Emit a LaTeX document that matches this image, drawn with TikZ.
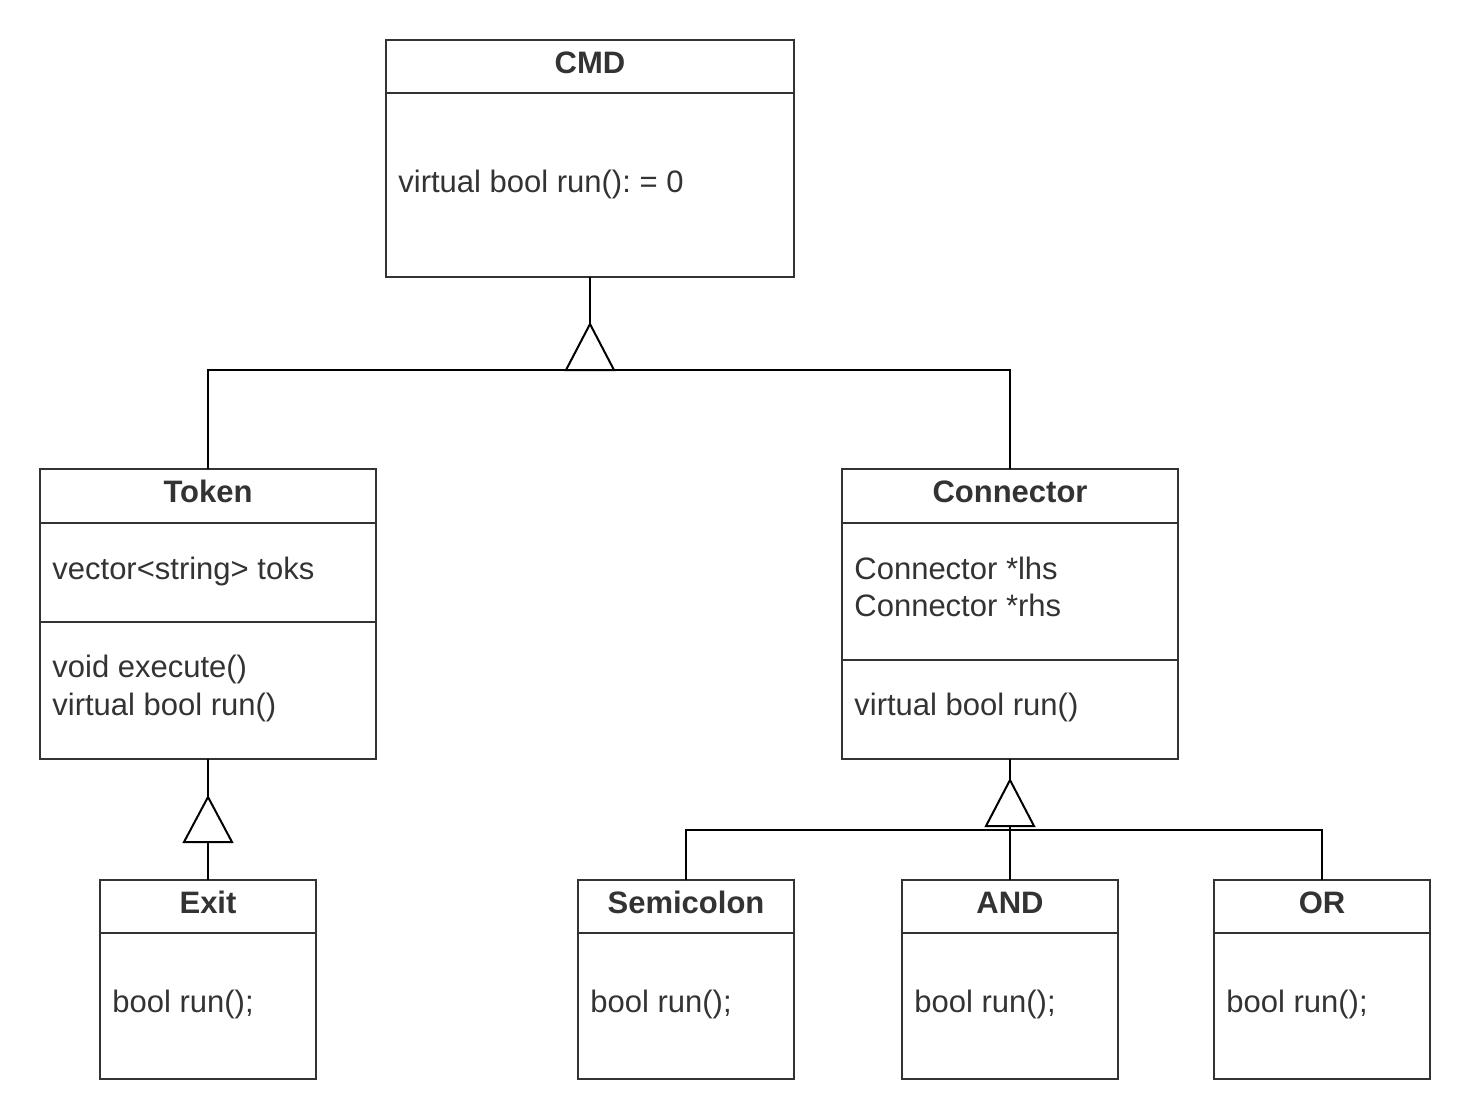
\documentclass[tikz,border=0pt]{standalone}
\usepackage{fontspec}
\setmainfont{Liberation Sans}
\usepackage{xcolor}
\usepackage{tikz}
\definecolor{umlgray}{HTML}{333333}
\frenchspacing
\tikzset{
	compart/.style={draw=umlgray, line width=1pt, fill=white, inner sep=0pt, outer sep=0pt, anchor=north west},
	classname/.style={font=\fontsize{15.5}{18.5}\selectfont\bfseries, text=umlgray, inner sep=0pt, anchor=base},
	member/.style={font=\fontsize{15.5}{18.5}\selectfont, text=umlgray, inner sep=0pt, anchor=base west},
	gen/.style={draw=black, line width=1pt},
	hollow/.style={gen, fill=white, line join=miter}
}

\begin{document}
\begin{tikzpicture}[x=0.5pt,y=-0.5pt]
	\useasboundingbox (0,0) rectangle (1470,1119);
	%
	%  CLASSES
	%
	\node[compart, minimum width=204pt, minimum height=26.5pt] (CMDh) at (386,40) {};
	\node[compart, minimum width=204pt, minimum height=92pt] (CMDb) at (386,93) {};
	\node[compart, minimum width=168pt, minimum height=27pt] (Tokh) at (40,469) {};
	\node[compart, minimum width=168pt, minimum height=49.5pt] (Toka) at (40,523) {};
	\node[compart, minimum width=168pt, minimum height=68.5pt] (Toko) at (40,622) {};
	\node[compart, minimum width=168pt, minimum height=27pt] (Conh) at (842,469) {};
	\node[compart, minimum width=168pt, minimum height=68.5pt] (Cona) at (842,523) {};
	\node[compart, minimum width=168pt, minimum height=49.5pt] (Cono) at (842,660) {};
	\node[compart, minimum width=108pt, minimum height=26.5pt] (Exith) at (100,880) {};
	\node[compart, minimum width=108pt, minimum height=73pt] (Exitb) at (100,933) {};
	\node[compart, minimum width=108pt, minimum height=26.5pt] (Semih) at (578,880) {};
	\node[compart, minimum width=108pt, minimum height=73pt] (Semib) at (578,933) {};
	\node[compart, minimum width=108pt, minimum height=26.5pt] (ANDh) at (902,880) {};
	\node[compart, minimum width=108pt, minimum height=73pt] (ANDb) at (902,933) {};
	\node[compart, minimum width=108pt, minimum height=26.5pt] (ORh) at (1214,880) {};
	\node[compart, minimum width=108pt, minimum height=73pt] (ORb) at (1214,933) {};
	%
	%  NAMES AND MEMBERS
	%
	\node[classname] (n1) at (590,73.3) {CMD};
	\node[classname] (n2) at (208,502.3) {Token};
	\node[classname] (n3) at (1010,502.3) {Connector};
	\node[classname] (n4) at (208,913.3) {Exit};
	\node[classname] (n5) at (686,913.3) {Semicolon};
	\node[classname] (n6) at (1010,913.3) {AND};
	\node[classname] (n7) at (1322,913.3) {OR};
	%
	\node[member] (m1) at (398,192) {virtual bool run(): = 0};
	\node[member] (m2) at (52,579) {vector<string> toks};
	\node[member] (m3) at (52,677) {void execute()};
	\node[member] (m4) at (52,715) {virtual bool run()};
	\node[member] (m5) at (854,579) {Connector *lhs};
	\node[member] (m6) at (854,616) {Connector *rhs};
	\node[member] (m7) at (854,715) {virtual bool run()};
	\node[member] (m8) at (112,1012) {bool run();};
	\node[member] (m9) at (590,1012) {bool run();};
	\node[member] (m10) at (914,1012) {bool run();};
	\node[member] (m11) at (1226,1012) {bool run();};
	%
	%  INHERITANCE
	%
	\coordinate (apexC) at (590,324);
	\coordinate (barC) at (590,370);
	\coordinate (apexT) at (208,797);
	\coordinate (baseT) at (208,842);
	\coordinate (apexK) at (1010,780);
	\coordinate (baseK) at (1010,826);
	\coordinate (barK) at (1010,830);
	%
	\draw[gen] (CMDb.south) -- (apexC);
	\draw[gen] (Tokh.north) |- (barC) -| (Conh.north);
	\draw[hollow] (apexC) -- ++(24,46) -- ++(-48,0) -- cycle;
	%
	\draw[gen] (Toko.south) -- (apexT);
	\draw[gen] (baseT) -- (Exith.north);
	\draw[hollow] (apexT) -- ++(24,45) -- ++(-48,0) -- cycle;
	%
	\draw[gen] (Cono.south) -- (apexK);
	\draw[gen] (Semih.north) |- (barK) -| (ORh.north);
	\draw[gen] (baseK) -- (ANDh.north);
	\draw[hollow] (apexK) -- ++(24,46) -- ++(-48,0) -- cycle;
\end{tikzpicture}
\end{document}
